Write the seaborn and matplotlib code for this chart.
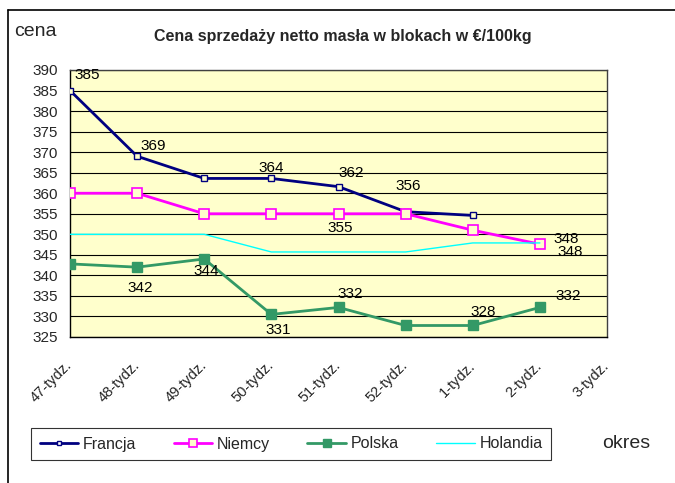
import matplotlib
matplotlib.use("Agg")
import matplotlib.pyplot as plt
import matplotlib.transforms as mtransforms
import pandas as pd
import seaborn as sns
from matplotlib.lines import Line2D

# ---- data ----
weeks = ["47-tydz.", "48-tydz.", "49-tydz.", "50-tydz.", "51-tydz.",
         "52-tydz.", "1-tydz.", "2-tydz.", "3-tydz."]
francja = [385, 369, 363.6, 363.6, 361.6, 355.5, 354.6]
niemcy = [360, 360, 355, 355, 355, 355, 351, 347.6]
polska = [342.8, 342, 344, 330.5, 332.2, 327.8, 327.8, 332.2]
holandia = [350, 350, 350, 345.7, 345.7, 345.7, 347.9, 347.9]

# data labels: (week index, text)
labels_fr = [(0, "385"), (1, "369"), (3, "364"), (4, "362"), (5, "356")]
labels_ni = [(4, "355"), (7, "348")]
labels_pl = [(1, "342"), (2, "344"), (3, "331"), (4, "332"), (6, "328"), (7, "332")]
labels_ho = [(7, "348")]

# label offsets in pixels (styling only)
offsets = {
    ("Francja", 0): (17, 16), ("Francja", 1): (16, 10), ("Francja", 3): (0, 10),
    ("Francja", 4): (13, 14), ("Francja", 5): (3, 26),
    ("Niemcy", 4): (2, -14), ("Niemcy", 7): (26, 5),
    ("Polska", 1): (3, -21), ("Polska", 2): (2, -12), ("Polska", 3): (7, -16),
    ("Polska", 4): (12, 13), ("Polska", 6): (10, 13), ("Polska", 7): (28, 11),
    ("Holandia", 7): (30, -9),
}

series = {"Francja": francja, "Niemcy": niemcy, "Polska": polska, "Holandia": holandia}
series_labels = {"Francja": labels_fr, "Niemcy": labels_ni, "Polska": labels_pl,
                 "Holandia": labels_ho}
styles = {
    "Francja": dict(color="#000080", lw=2.0, marker="s", ms=4, mfc="#FFFFCC", mec="#000080", mew=1.0),
    "Niemcy": dict(color="#FF00FF", lw=2.0, marker="s", ms=7, mfc="#FFFFCC", mec="#FF00FF", mew=1.2),
    "Polska": dict(color="#339966", lw=2.0, marker="s", ms=7, mfc="#339966", mec="#339966", mew=1.0),
    "Holandia": dict(color="#00FFFF", lw=1.0, marker=None, ms=0, mfc="none", mec="none", mew=0),
}

rows = []
for name, vals in series.items():
    for i, v in enumerate(vals):
        rows.append({"kraj": name, "pos": i, "cena": v})
df = pd.DataFrame(rows)

sns.set_style("white")
plt.rcParams["font.family"] = ["Liberation Sans", "DejaVu Sans"]

fig = plt.figure(figsize=(6.75, 4.83), dpi=100)
ax = fig.add_axes([70 / 675, 1 - 337 / 483, 537 / 675, 267 / 483])
ax.set_facecolor("#FFFFCC")

for name in series:
    st = styles[name]
    sub = df[df["kraj"] == name]
    sns.lineplot(data=sub, x="pos", y="cena", ax=ax, color=st["color"], lw=st["lw"],
                 marker=st["marker"], markersize=st["ms"], markerfacecolor=st["mfc"],
                 markeredgecolor=st["mec"], markeredgewidth=st["mew"], legend=False,
                 zorder=3)
    vals = series[name]
    for i, txt in series_labels[name]:
        dx, dy = offsets[(name, i)]
        ax.annotate(txt, (i, vals[i]), xytext=(dx, dy), textcoords="offset pixels",
                    ha="center", va="center", fontsize=11, color="black", zorder=4,
                    annotation_clip=False)

ax.set_xlim(0, len(weeks) - 1)
ax.set_ylim(325, 390)
ax.set_yticks(range(325, 391, 5))
ax.set_xticks(range(len(weeks)))
ax.set_xticklabels(weeks, rotation=45, ha="right", va="center",
                   rotation_mode="anchor", fontsize=10.5)
shift = mtransforms.ScaledTranslation(-6 / 100, 0, fig.dpi_scale_trans)
for lab in ax.get_xticklabels():
    lab.set_transform(lab.get_transform() + shift)
ax.tick_params(axis="y", labelsize=11, length=3, direction="out", pad=6)
ax.tick_params(axis="x", length=4, direction="out", pad=15)
ax.yaxis.grid(True, color="black", lw=0.8)
ax.xaxis.grid(False)
ax.set_axisbelow(True)
ax.set_xlabel("")
ax.set_ylabel("")
for sp in ax.spines.values():
    sp.set_color("#404040")
    sp.set_linewidth(1.0)
ax.spines["left"].set_color("black")
ax.spines["bottom"].set_color("black")

fig.text(14 / 675, 1 - 31 / 483, "cena", fontsize=14, ha="left", va="center")
fig.text(343 / 675, 1 - 36 / 483, "Cena sprzedaży netto masła w blokach w €/100kg",
         fontsize=11.5, fontweight="bold", ha="center", va="center")
fig.text(626 / 675, 1 - 443 / 483, "okres", fontsize=14, ha="center", va="center")

# outer chart frame (clipped at the right and bottom as in the reference)
fig.add_artist(Line2D([8 / 675, 1], [1 - 10 / 483] * 2, color="black", lw=1.2,
                      transform=fig.transFigure))
fig.add_artist(Line2D([8 / 675] * 2, [0, 1 - 10 / 483], color="black", lw=1.2,
                      transform=fig.transFigure))

handles = []
for name in series:
    st = styles[name]
    handles.append(Line2D([], [], color=st["color"], lw=st["lw"], marker=st["marker"],
                          markersize=st["ms"] * 0.8,
                          markerfacecolor=st["mfc"] if name != "Francja" else "white",
                          markeredgecolor=st["mec"], markeredgewidth=st["mew"]))
leg = fig.legend(handles, list(series), loc="center", ncol=4,
                 bbox_to_anchor=(291 / 675, 1 - 444 / 483), frameon=True,
                 fancybox=False, edgecolor="black", fontsize=11.5, handlelength=2.4,
                 columnspacing=2.35, handletextpad=0.3, borderpad=0.55,
                 borderaxespad=0)
leg.get_frame().set_linewidth(0.8)

fig.savefig("out.png", dpi=100)
